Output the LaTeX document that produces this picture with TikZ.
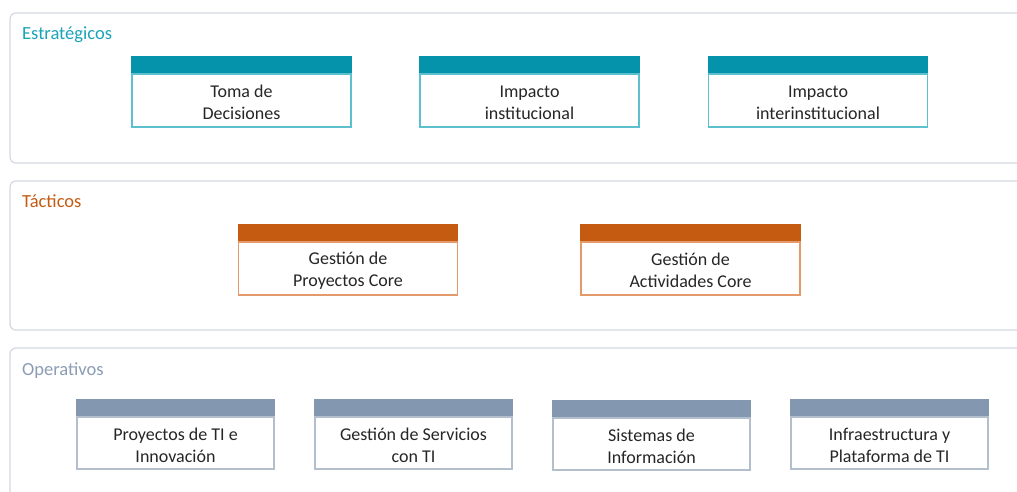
\documentclass[tikz,border=0pt]{standalone}
\usepackage{fontspec}
\setmainfont{Carlito}
\definecolor{panelline}{HTML}{D3D9E3}
\definecolor{tealhead}{HTML}{0593AB}
\definecolor{tealline}{HTML}{5CC0CF}
\definecolor{teallabel}{HTML}{1BA3B7}
\definecolor{orghead}{HTML}{C55A11}
\definecolor{orgline}{HTML}{E4996A}
\definecolor{orglabel}{HTML}{C55A11}
\definecolor{greyhead}{HTML}{8497B0}
\definecolor{greyline}{HTML}{B4BFCE}
\definecolor{greylabel}{HTML}{8C9CB4}
\definecolor{txt}{HTML}{262626}
\newcommand\myup{\rule{0pt}{17pt}}
\tikzset{
  panel/.style={draw=panelline, line width=1.2pt, rounded corners=6pt, fill=white},
  panellabel/.style={anchor=west, font=\fontsize{18.5}{20}\selectfont, inner sep=0pt},
  boxbody/.style={draw=#1, line width=1.2pt, fill=white, inner sep=0pt, align=center,
    text=txt, font=\fontsize{18}{22}\selectfont},
  boxhead/.style={fill=#1, draw=none, inner sep=0pt, minimum height=17pt, anchor=south},
}
\begin{document}
\begin{tikzpicture}[x=1pt,y=-1pt]
\useasboundingbox (0,0) rectangle (1017,492);
\clip (0,0) rectangle (1017,492);
\fill[white] (0,0) rectangle (1017,492);
% panels
\draw[panel] (10,13) rectangle (1040,163);
\draw[panel] (10,181) rectangle (1040,330);
\draw[panel] (10,348) rectangle (1040,520);
\node[panellabel, text=teallabel] (l1) at (22,34.5) {Estratégicos};
\node[panellabel, text=orglabel] (l2) at (22,201) {Tácticos};
\node[panellabel, text=greylabel] (l3) at (22,370.5) {Operativos};
% strategic
\node[boxbody=tealline, minimum width=219pt, minimum height=53pt] (s1) at (241.5,100.5) {\myup Toma de\\Decisiones};
\node[boxbody=tealline, minimum width=219pt, minimum height=53pt] (s2) at (529.5,100.5) {\myup Impacto\\institucional};
\node[boxbody=tealline, minimum width=219pt, minimum height=53pt] (s3) at (818,100.5) {\myup Impacto\\interinstitucional};
\node[boxhead=tealhead, minimum width=220.2pt] (s1h) at (s1.north) {};
\node[boxhead=tealhead, minimum width=220.2pt] (s2h) at (s2.north) {};
\node[boxhead=tealhead, minimum width=220.2pt] (s3h) at (s3.north) {};
% tactical
\node[boxbody=orgline, minimum width=219pt, minimum height=53pt] (t1) at (348,268.5) {\myup Gestión de\\Proyectos Core};
\node[boxbody=orgline, minimum width=219pt, minimum height=53pt] (t2) at (690.5,268.5) {\myup Gestión de\\Actividades Core};
\node[boxhead=orghead, minimum width=220.2pt] (t1h) at (t1.north) {};
\node[boxhead=orghead, minimum width=220.2pt] (t2h) at (t2.north) {};
% operational
\node[boxbody=greyline, minimum width=197pt, minimum height=52pt] (o1) at (175.5,443) {\myup Proyectos de TI e\\Innovación};
\node[boxbody=greyline, minimum width=197pt, minimum height=52pt] (o2) at (413.5,443) {\myup Gestión de Servicios\\con TI};
\node[boxbody=greyline, minimum width=197pt, minimum height=52pt] (o3) at (651.5,444) {\myup Sistemas de\\Información};
\node[boxbody=greyline, minimum width=197pt, minimum height=52pt] (o4) at (889.5,443) {\myup Infraestructura y\\Plataforma de TI};
\node[boxhead=greyhead, minimum width=198.2pt] (o1h) at (o1.north) {};
\node[boxhead=greyhead, minimum width=198.2pt] (o2h) at (o2.north) {};
\node[boxhead=greyhead, minimum width=198.2pt] (o3h) at (o3.north) {};
\node[boxhead=greyhead, minimum width=198.2pt] (o4h) at (o4.north) {};
\end{tikzpicture}
\end{document}
